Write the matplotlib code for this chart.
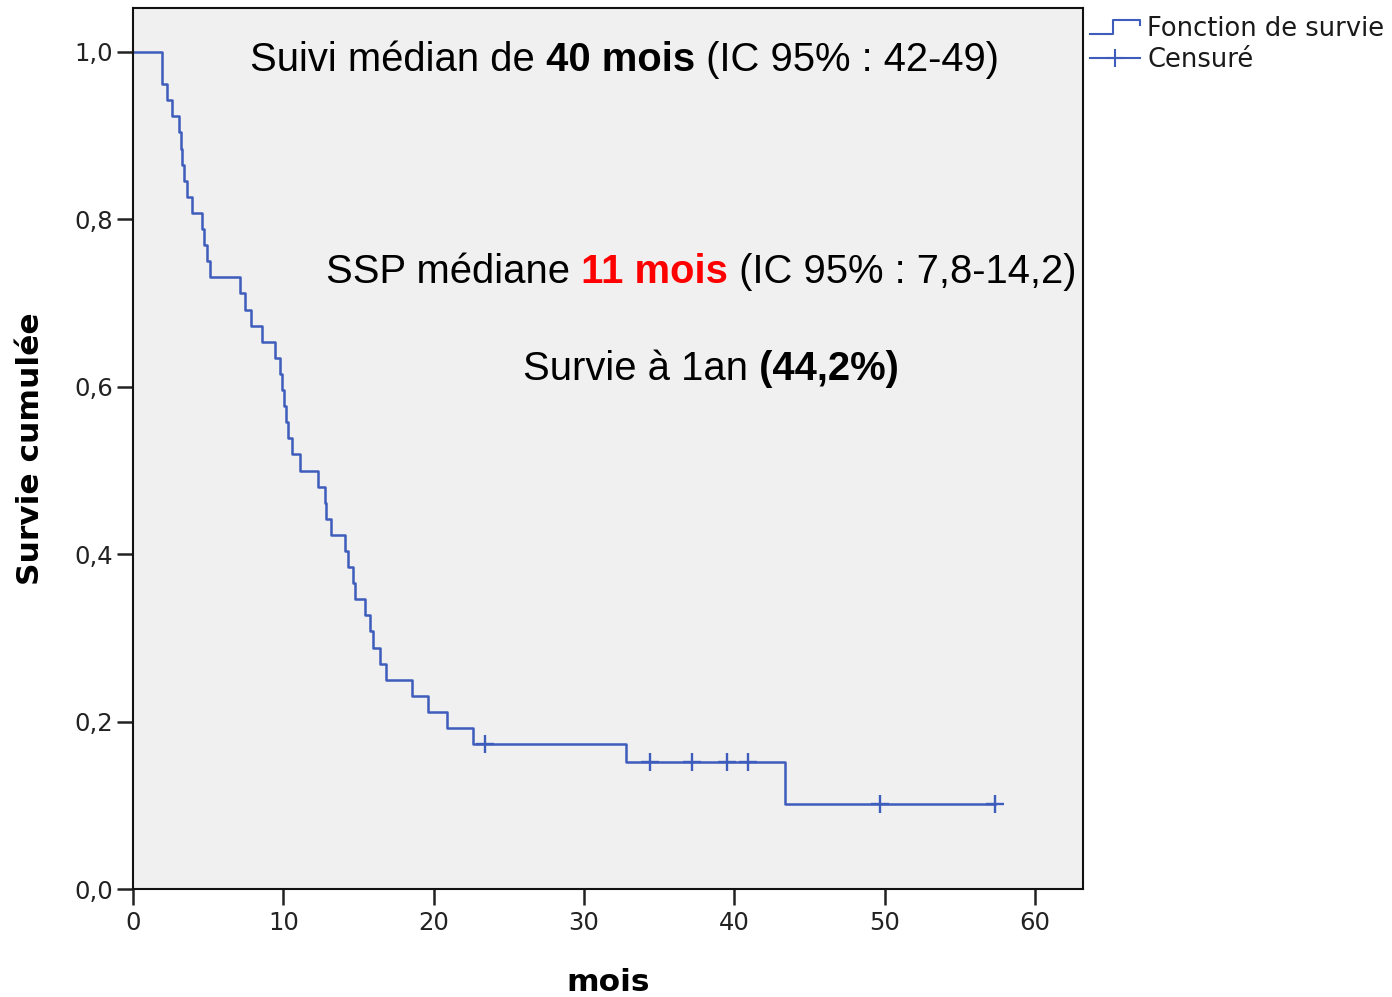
import numpy as np
import matplotlib
matplotlib.use("Agg")
import matplotlib.pyplot as plt
import matplotlib.transforms as mtransforms
from matplotlib.lines import Line2D
from matplotlib.legend_handler import HandlerBase

# progression / death times in months, one entry per event
event_times = [1.95, 1.95, 2.24, 2.57, 3.08, 3.17, 3.28, 3.39, 3.57, 3.90,
               4.57, 4.72, 4.90, 5.12, 7.14, 7.45, 7.85, 8.56, 9.45, 9.78,
               9.90, 10.02, 10.18, 10.33, 10.56, 11.11, 12.30, 12.78, 12.85, 13.15,
               14.10, 14.28, 14.66, 14.77, 15.44, 15.77, 15.99, 16.43, 16.83, 18.54,
               19.65, 20.87, 22.64, 32.80, 43.38]
# censored patients
censor_times = [23.42, 34.40, 37.17, 39.54, 40.94, 49.70, 57.35]

x_ticks = [0, 10, 20, 30, 40, 50, 60]
y_ticks = [0.0, 0.2, 0.4, 0.6, 0.8, 1.0]
legend_labels = ["Fonction de survie", "Censuré"]

line_color = "#3d5cbc"
bg_color = "#f0f0f0"


def kaplan_meier(events, censors):
    """Product-limit estimate, returns step points and censor marks"""
    times = sorted(set(events) | set(censors))
    at_risk = len(events) + len(censors)
    s = 1.0
    xs, ys = [0.0], [1.0]
    cx, cy = [], []
    for t in times:
        d = events.count(t)
        c = censors.count(t)
        if d:
            s *= (at_risk - d) / at_risk
            xs.append(t)
            ys.append(s)
        if c:
            cx.append(t)
            cy.append(s)
        at_risk -= d + c
    xs.append(max(times))
    ys.append(s)
    return xs, ys, cx, cy


class StepHandler(HandlerBase):
    def create_artists(self, legend, orig_handle, xdescent, ydescent,
                       width, height, fontsize, trans):
        xs = np.array([0, 0.45, 0.45, 1.0, 1.0]) * width - xdescent
        ys = np.array([0.1, 0.1, 0.9, 0.9, 0.6]) * height - ydescent
        line = Line2D(xs, ys, color=orig_handle.get_color(),
                      lw=orig_handle.get_linewidth())
        line.set_transform(trans)
        return [line]


def draw_parts(ax, x, y, parts, size):
    """Write a line made of pieces with different weight / colour"""
    fig = ax.figure
    renderer = fig.canvas.get_renderer()
    trans = ax.transAxes
    for s, weight, color in parts:
        t = ax.text(x, y, s, transform=trans, fontsize=size, fontweight=weight,
                    color=color, family="Liberation Sans", va="center", ha="left")
        w = t.get_window_extent(renderer).width
        trans = mtransforms.offset_copy(t.get_transform(), x=w, units="dots")


xs, ys, cx, cy = kaplan_meier(event_times, censor_times)

fig = plt.figure(figsize=(13.92, 9.97), dpi=100)
ax = fig.add_axes([133 / 1392, 1 - 889 / 997, 950 / 1392, 881 / 997])
ax.set_facecolor(bg_color)

ax.step(xs, ys, where="post", color=line_color, lw=1.8)
ax.plot(cx, cy, ls="none", marker="+", ms=13, mew=1.7, color=line_color)

ax.set_xlim(0, 950 / 15.033)
ax.set_ylim(0, 881 / 837)
ax.set_xticks(x_ticks)
ax.set_xticklabels([str(v) for v in x_ticks])
ax.set_yticks(y_ticks)
ax.set_yticklabels([f"{v:.1f}".replace(".", ",") for v in y_ticks])
ax.tick_params(direction="out", length=11.5, width=1.8, colors="#222222",
               labelsize=17.5)
ax.tick_params(axis="y", pad=3)
ax.tick_params(axis="x", pad=4)
for sp in ax.spines.values():
    sp.set_linewidth(1.5)
    sp.set_color("#111111")

ax.set_ylabel("Survie cumulée", fontsize=22.5, fontweight="bold")
ax.set_xlabel("mois", fontsize=22.5, fontweight="bold")
ax.yaxis.set_label_coords(-0.108, 0.5)
ax.yaxis.label.set_va("center")
ax.xaxis.set_label_coords(0.5, -0.1056)
ax.xaxis.label.set_va("center")

txt_size = 28.8
draw_parts(ax, 0.123, 0.941, [("Suivi médian de", "normal", "black"),
                              (" 40 mois", "bold", "black"),
                              (" (IC 95% : 42-49)", "normal", "black")], txt_size)
draw_parts(ax, 0.203, 0.700, [("SSP médiane", "normal", "black"),
                              (" 11 mois", "bold", "red"),
                              (" (IC 95% : 7,8-14,2)", "normal", "black")], txt_size)
draw_parts(ax, 0.4105, 0.590, [("Survie à 1an", "normal", "black"),
                               (" (44,2%)", "bold", "black")], txt_size)

handles = [Line2D([], [], color=line_color, lw=1.5),
           Line2D([], [], color=line_color, lw=1.5, marker="+", ms=13, mew=1.5)]
fig.legend(handles, legend_labels, handler_map={handles[0]: StepHandler()},
           loc="upper left", bbox_to_anchor=(1090 / 1392, 1 - 16 / 997),
           frameon=False, fontsize=18.5, handlelength=1.95, handletextpad=0.28,
           borderpad=0, borderaxespad=0, labelspacing=0.2, numpoints=1,
           labelcolor="#1a1a1a")

fig.savefig("out.png", dpi=100)
